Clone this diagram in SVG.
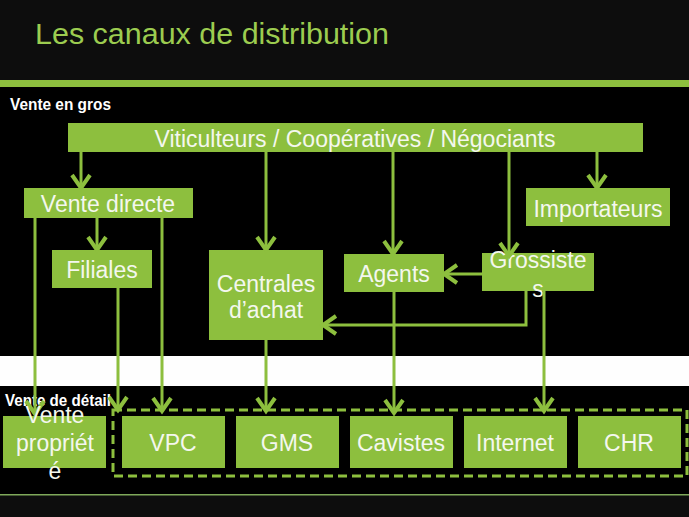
<svg xmlns="http://www.w3.org/2000/svg" width="689" height="517" viewBox="0 0 689 517">
<style>
.box{fill:#8dbf3e}
.t{font-family:"Liberation Sans",Arial,sans-serif;font-size:23px;fill:#f4f7ee;text-anchor:middle}
.lbl{font-family:"Liberation Sans",Arial,sans-serif;font-size:17px;font-weight:bold;fill:#ffffff}
.c{stroke:#8dbf3e;stroke-width:3;fill:none}
</style>
<defs>
<marker id="ah" markerUnits="userSpaceOnUse" markerWidth="24" markerHeight="24" viewBox="-14 -12 18 24" refX="0" refY="0" orient="auto" overflow="visible">
<path d="M-13,-9 L0,0 L-13,9" fill="none" stroke="#8dbf3e" stroke-width="4"/>
</marker>
</defs>
<rect x="0" y="0" width="689" height="517" fill="#0d0d0d"/>
<rect x="0" y="87" width="689" height="269" fill="#000000"/>
<rect x="0" y="80" width="689" height="7" fill="#8dbf3e"/>
<rect x="0" y="356" width="689" height="30" fill="#fefefe"/>
<rect x="0" y="386" width="689" height="109" fill="#000000"/>
<rect x="0" y="494" width="689" height="1.5" fill="#7fa85a"/>
<text x="35" y="44" font-family="Liberation Sans, Arial, sans-serif" font-size="30" fill="#9ccc50" textLength="354" lengthAdjust="spacingAndGlyphs">Les canaux de distribution</text>
<text class="lbl" x="10" y="110" textLength="101" lengthAdjust="spacingAndGlyphs">Vente en gros</text>
<text class="lbl" x="5" y="406" textLength="106" lengthAdjust="spacingAndGlyphs">Vente de détail</text>
<rect x="113" y="410" width="574" height="66" fill="none" stroke="#8dbf3e" stroke-width="3" stroke-dasharray="9,5"/>
<g id="viticulteurs"><rect class="box" x="68" y="123" width="575" height="29"/><text class="t" x="355" y="147">Viticulteurs / Coopératives / Négociants</text></g>
<g id="vente-directe"><rect class="box" x="24" y="188" width="169" height="30"/><text class="t" x="108" y="212">Vente directe</text></g>
<g id="filiales"><rect class="box" x="52" y="250" width="100" height="38"/><text class="t" x="102" y="278">Filiales</text></g>
<g id="centrales"><rect class="box" x="209" y="250" width="114" height="90"/><text class="t" x="266" y="292">Centrales</text><text class="t" x="266" y="318">d’achat</text></g>
<g id="agents"><rect class="box" x="344" y="254" width="100" height="38"/><text class="t" x="394" y="282">Agents</text></g>
<g id="grossistes"><rect class="box" x="482" y="253" width="112" height="38"/><text class="t" x="538" y="268">Grossiste</text><text class="t" x="538" y="297">s</text></g>
<g id="importateurs"><rect class="box" x="526" y="188" width="144" height="38"/><text class="t" x="598" y="217">Importateurs</text></g>
<g id="connectors">
<line class="c" x1="81" y1="152" x2="81" y2="188" marker-end="url(#ah)"/>
<line class="c" x1="266" y1="152" x2="266" y2="250" marker-end="url(#ah)"/>
<line class="c" x1="393" y1="152" x2="393" y2="254" marker-end="url(#ah)"/>
<line class="c" x1="509" y1="152" x2="509" y2="256" marker-end="url(#ah)"/>
<line class="c" x1="597" y1="152" x2="597" y2="188" marker-end="url(#ah)"/>
<line class="c" x1="97" y1="218" x2="97" y2="250" marker-end="url(#ah)"/>
<line class="c" x1="482" y1="274" x2="444" y2="274" marker-end="url(#ah)"/>
<polyline class="c" points="526,291 526,325 323,325" marker-end="url(#ah)"/>
<line class="c" x1="35" y1="218" x2="35" y2="414" marker-end="url(#ah)"/>
<line class="c" x1="118" y1="288" x2="118" y2="410" marker-end="url(#ah)"/>
<line class="c" x1="162" y1="218" x2="162" y2="411" marker-end="url(#ah)"/>
<line class="c" x1="266" y1="340" x2="266" y2="411" marker-end="url(#ah)"/>
<line class="c" x1="394" y1="292" x2="394" y2="413" marker-end="url(#ah)"/>
<line class="c" x1="544" y1="291" x2="544" y2="411" marker-end="url(#ah)"/>
</g>
<g id="vente-propriete"><rect class="box" x="3" y="416" width="103" height="52"/><text class="t" x="55" y="423">Vente</text><text class="t" x="55" y="451">propriét</text><text class="t" x="55" y="479">é</text></g>
<g id="vpc"><rect class="box" x="122" y="416" width="103" height="52"/><text class="t" x="173" y="451">VPC</text></g>
<g id="gms"><rect class="box" x="236" y="416" width="103" height="52"/><text class="t" x="287" y="451">GMS</text></g>
<g id="cavistes"><rect class="box" x="350" y="416" width="103" height="52"/><text class="t" x="401" y="451">Cavistes</text></g>
<g id="internet"><rect class="box" x="464" y="416" width="103" height="52"/><text class="t" x="515" y="451">Internet</text></g>
<g id="chr"><rect class="box" x="578" y="416" width="103" height="52"/><text class="t" x="629" y="451">CHR</text></g>
</svg>
